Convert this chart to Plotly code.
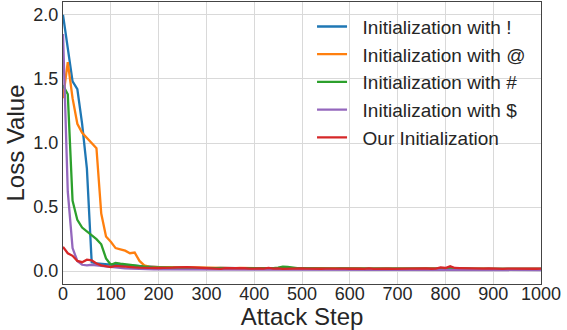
import plotly.graph_objects as go

steps = list(range(0, 1001, 10))

init_excl = [2.00,1.72,1.48,1.42,1.15,0.80,0.07,0.06,0.055,0.05,
0.05,0.05,0.048,0.045,0.042,0.040,0.038,0.035,0.032,0.030,
0.030,0.029,0.028,0.028,0.027,0.027,0.026,0.026,0.025,0.025,
0.025,0.024,0.024,0.025,0.024,0.023,0.024,0.023,0.023,0.022,
0.023,0.022,0.022,0.023,0.022,0.021,0.022,0.021,0.021,0.022,
0.021,0.021,0.020,0.021,0.020,0.021,0.020,0.020,0.021,0.020,
0.020,0.020,0.019,0.020,0.020,0.019,0.020,0.019,0.019,0.020,
0.019,0.019,0.019,0.020,0.019,0.019,0.018,0.019,0.019,0.018,
0.019,0.019,0.018,0.018,0.019,0.018,0.018,0.018,0.019,0.018,
0.018,0.018,0.017,0.018,0.018,0.017,0.018,0.018,0.017,0.018,0.018]

init_at = [1.35,1.63,1.35,1.15,1.08,1.04,1.00,0.96,0.45,0.27,
0.23,0.18,0.17,0.16,0.14,0.145,0.08,0.045,0.035,0.032,
0.030,0.030,0.031,0.029,0.030,0.032,0.031,0.029,0.028,0.028,
0.027,0.026,0.027,0.025,0.026,0.025,0.024,0.025,0.024,0.024,
0.023,0.024,0.023,0.023,0.024,0.022,0.023,0.022,0.023,0.022,
0.022,0.021,0.022,0.022,0.021,0.021,0.022,0.021,0.020,0.021,
0.021,0.020,0.021,0.020,0.020,0.021,0.020,0.020,0.019,0.020,
0.020,0.019,0.020,0.019,0.019,0.020,0.019,0.019,0.020,0.019,
0.019,0.019,0.018,0.019,0.019,0.018,0.019,0.018,0.019,0.018,
0.018,0.019,0.018,0.018,0.018,0.017,0.018,0.018,0.018,0.017,0.018]

init_hash = [1.45,1.38,0.55,0.40,0.34,0.31,0.28,0.25,0.21,0.10,
0.05,0.065,0.058,0.052,0.048,0.045,0.040,0.036,0.033,0.030,
0.030,0.028,0.027,0.027,0.026,0.026,0.025,0.025,0.026,0.025,
0.025,0.024,0.024,0.025,0.024,0.023,0.024,0.023,0.023,0.022,
0.023,0.022,0.023,0.022,0.023,0.028,0.036,0.033,0.026,0.024,
0.023,0.022,0.022,0.021,0.022,0.021,0.021,0.020,0.021,0.020,
0.020,0.021,0.020,0.020,0.019,0.020,0.020,0.019,0.020,0.019,
0.019,0.020,0.019,0.019,0.019,0.018,0.019,0.019,0.020,0.022,
0.024,0.022,0.019,0.019,0.018,0.019,0.018,0.018,0.019,0.018,
0.018,0.018,0.018,0.017,0.018,0.018,0.017,0.018,0.018,0.017,0.018]

init_dollar = [1.85,0.62,0.18,0.08,0.05,0.045,0.05,0.045,0.04,0.035,
0.030,0.028,0.025,0.022,0.020,0.018,0.017,0.016,0.015,0.015,
0.014,0.014,0.014,0.013,0.014,0.013,0.013,0.013,0.012,0.013,
0.012,0.012,0.013,0.012,0.012,0.012,0.011,0.012,0.012,0.011,
0.012,0.011,0.011,0.012,0.011,0.011,0.011,0.012,0.011,0.011,
0.011,0.010,0.011,0.011,0.010,0.011,0.010,0.011,0.010,0.010,
0.011,0.010,0.010,0.010,0.011,0.010,0.010,0.010,0.010,0.011,
0.010,0.010,0.010,0.010,0.009,0.010,0.010,0.010,0.009,0.010,
0.010,0.010,0.009,0.010,0.009,0.010,0.009,0.009,0.010,0.009,
0.009,0.010,0.009,0.009,0.009,0.010,0.009,0.009,0.009,0.009,0.009]

ours = [0.19,0.14,0.12,0.08,0.07,0.09,0.085,0.06,0.045,0.038,
0.032,0.042,0.038,0.036,0.033,0.030,0.028,0.026,0.025,0.024,
0.025,0.026,0.024,0.027,0.030,0.033,0.031,0.030,0.028,0.025,
0.026,0.024,0.022,0.018,0.024,0.025,0.022,0.024,0.023,0.020,
0.022,0.021,0.020,0.026,0.020,0.022,0.018,0.020,0.022,0.024,
0.022,0.020,0.018,0.021,0.019,0.020,0.021,0.019,0.018,0.020,
0.019,0.021,0.020,0.018,0.022,0.018,0.020,0.019,0.020,0.018,
0.019,0.020,0.018,0.019,0.021,0.020,0.022,0.019,0.020,0.030,
0.025,0.038,0.025,0.024,0.022,0.020,0.021,0.019,0.020,0.022,
0.020,0.019,0.018,0.020,0.019,0.018,0.020,0.019,0.020,0.019,0.020]

names = ["Initialization with !", "Initialization with @", "Initialization with #",
         "Initialization with $", "Our Initialization"]
series = [init_excl, init_at, init_hash, init_dollar, ours]
colors = ["#1f77b4", "#ff7f0e", "#2ca02c", "#9467bd", "#d62728"]

x_ticks = list(range(0, 1001, 100))
y_ticks = [0.0, 0.5, 1.0, 1.5, 2.0]

fig = go.Figure()
for name, ys, c in zip(names, series, colors):
    fig.add_trace(go.Scatter(x=steps, y=ys, mode="lines", name="\u00a0\u00a0" + name,
                             line=dict(color=c, width=2.3)))

font_family = "Liberation Sans, Arial, sans-serif"
fig.update_layout(
    width=567, height=330,
    margin=dict(l=63, r=26, t=2, b=46),
    paper_bgcolor="white", plot_bgcolor="white",
    font=dict(family=font_family, color="#262626"),
    legend=dict(x=0.521, y=0.98, xanchor="left", yanchor="top",
                bgcolor="rgba(0,0,0,0)", borderwidth=0,
                font=dict(size=19, family=font_family, color="#262626")),
    showlegend=True,
)
fig.update_xaxes(range=[0, 1000], tickvals=x_ticks, ticktext=[str(v) for v in x_ticks],
                 showgrid=True, gridcolor="#d9d9d9", gridwidth=1,
                 showline=True, linecolor="#444444", linewidth=1.3, mirror=True,
                 ticks="", ticklen=0, zeroline=False, automargin=False,
                 ticklabelstandoff=-7,
                 tickfont=dict(size=18),
                 title=dict(text="Attack Step", font=dict(size=24), standoff=6))
fig.update_yaxes(range=[-0.1, 2.1], tickvals=y_ticks, ticktext=[f"{v:.1f}" for v in y_ticks],
                 showgrid=True, gridcolor="#d9d9d9", gridwidth=1,
                 showline=True, linecolor="#444444", linewidth=1.3, mirror=True,
                 ticks="", ticklen=0, zeroline=False, automargin=False,
                 tickfont=dict(size=18),
                 title=dict(text="Loss Value", font=dict(size=24), standoff=1))

fig.write_html("out.html")
